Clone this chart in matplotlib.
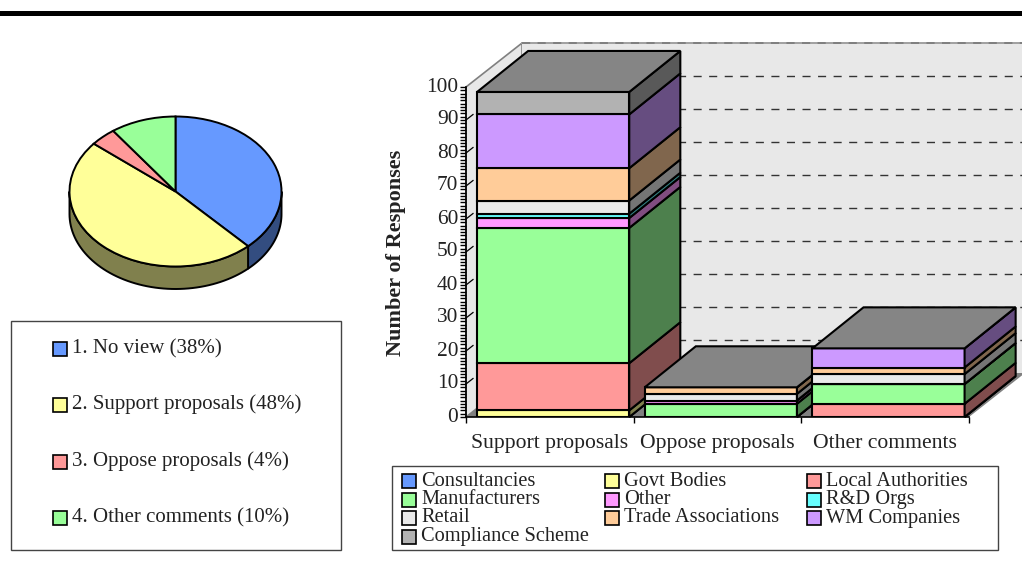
import numpy as np
import matplotlib
matplotlib.use('Agg')
import matplotlib.pyplot as plt
from matplotlib.patches import Polygon, Rectangle
from matplotlib.transforms import ScaledTranslation

W, H = 1022, 574

categories = ['Support proposals', 'Oppose proposals', 'Other comments']
series = ['Consultancies', 'Govt Bodies', 'Local Authorities', 'Manufacturers', 'Other',
          'R&D Orgs', 'Retail', 'Trade Associations', 'WM Companies', 'Compliance Scheme']
consultancies = [0, 0, 0]
govt = [2, 0, 0]
local_auth = [14.3, 0, 4]
manufacturers = [41, 4, 6]
other = [3, 1, 0]
rd_orgs = [1.3, 0, 0]
retail = [4, 2, 3]
trade = [9.8, 2, 2]
wm = [16.3, 0, 5.8]
compliance = [6.8, 0, 0]
stack = [consultancies, govt, local_auth, manufacturers, other, rd_orgs, retail, trade, wm, compliance]
colors = ['#6699ff', '#ffff99', '#ff9999', '#99ff99', '#ff99ff',
          '#66ffff', '#eaeaea', '#ffcc99', '#cc99ff', '#b2b2b2']

pie_labels = ['1. No view (38%)', '2. Support proposals (48%)',
              '3. Oppose proposals (4%)', '4. Other comments (10%)']
pie_values = [38, 48, 4, 10]
pie_colors = ['#6699ff', '#ffff99', '#ff9999', '#99ff99']

plt.rcParams['font.family'] = ['Liberation Serif', 'DejaVu Serif']
INK = '#222222'


def px_axes(fig, x0, y0, x1, y1):
    # axes placed by pixel box, y counted from the top
    ax = fig.add_axes([x0 / W, 1 - y1 / H, (x1 - x0) / W, (y1 - y0) / H])
    ax.patch.set_alpha(0)
    return ax


def shade(color, f=0.5):
    return tuple(c * f for c in matplotlib.colors.to_rgb(color))


def draw_pie(ax):
    ax.pie(pie_values, colors=pie_colors, startangle=90, counterclock=False, radius=1,
           wedgeprops=dict(edgecolor='black', linewidth=1.4, clip_on=False), normalize=True)
    ax.set_aspect('auto')
    ax.set_xlim(-1, 1)
    ax.set_ylim(-1, 1)
    depth = 0.3
    ends = np.cumsum(pie_values) / sum(pie_values) * 360
    starts = ends - np.array(pie_values) / sum(pie_values) * 360
    # rim below the front half of the disc
    for a, b, c in zip(starts, ends, pie_colors):
        a, b = max(a, 90), min(b, 270)
        if b <= a:
            continue
        t = np.radians(np.linspace(a, b, 60))
        x, y = np.sin(t), np.cos(t)
        pts = np.r_[np.c_[x, y], np.c_[x, y - depth][::-1]]
        ax.add_patch(Polygon(pts, closed=True, fc=shade(c), ec='black', lw=1.4, clip_on=False, zorder=0))


def draw_bars(ax, fig):
    ax.set_xlim(0, 3)
    ax.set_ylim(0, 100)
    ax.set_xticks(range(4))
    ax.set_xticklabels([])
    ax.set_yticks(range(0, 101, 10))
    ax.set_yticks(range(0, 101), minor=True)
    ax.tick_params(axis='y', which='major', length=4, width=1.0, labelsize=15.4, pad=1.5, labelcolor=INK)
    ax.tick_params(axis='y', which='minor', length=4, width=1.0)
    ax.tick_params(axis='x', which='major', length=4.5, width=1, pad=0)
    # numbers sit slightly above their ticks
    lift = ScaledTranslation(0, 2.5 / 72 * 0.72, fig.dpi_scale_trans)
    for lab in ax.get_yticklabels():
        lab.set_transform(lab.get_transform() + lift)
    for s in ['top', 'right']:
        ax.spines[s].set_visible(False)
    ax.spines['left'].set_linewidth(1.2)
    ax.spines['bottom'].set_linewidth(1.2)
    ax.spines['bottom'].set_zorder(1.5)

    # depth of the chart box and of the bars, in data units
    wx, wy = 56 / 167.5, 44 / 3.3
    bx, by = 51 / 167.5, 41 / 3.3
    ax.add_patch(Polygon([(0, 0), (wx, wy), (wx, 100 + wy), (0, 100)], fc='#e8e8e8', ec='#808080', lw=1.2, clip_on=False, zorder=0.1))
    ax.add_patch(Polygon([(wx, wy), (3 + wx, wy), (3 + wx, 100 + wy), (wx, 100 + wy)], fc='#e8e8e8', ec='none', clip_on=False, zorder=0.1))
    ax.add_patch(Polygon([(0, 0), (3, 0), (3 + wx, wy), (wx, wy)], fc='#808080', ec='none', clip_on=False, zorder=0.2))
    for v in range(0, 110, 10):
        if v == 100:
            ax.plot([wx, 3 + wx], [v + wy, v + wy], color='#a0a0a0', lw=1.4, clip_on=False, zorder=0.3)
            ax.plot([wx, 3 + wx], [v + wy, v + wy], color='#808080', lw=1.4, dashes=(4.2, 3.8), clip_on=False, zorder=0.3)
        elif v > 0:
            ax.plot([wx, 3 + wx], [v + wy, v + wy], color='#333333', lw=1.0, dashes=(5.8, 5.4), clip_on=False, zorder=0.3)
            ax.plot([0, 7 / 167.5], [v, v + 7 / 167.5 / wx * wy], color='black', lw=0.9, clip_on=False, zorder=0.3)

    x = np.arange(3) + 0.52
    w = 152 / 167.5
    # far bars first so nearer ones overlap them
    for i in range(3):
        base = 0.0
        xl, xr = x[i] - w / 2, x[i] + w / 2
        for vals, c in zip(stack, colors):
            v = vals[i]
            ax.bar(x[i], v, w, bottom=base, color=c, edgecolor='black', linewidth=1.5, zorder=2 + i)
            ax.add_patch(Polygon([(xr, base), (xr + bx, base + by), (xr + bx, base + v + by), (xr, base + v)],
                                 fc=shade(c), ec='black', lw=1.5, clip_on=False, zorder=2 + i))
            base += v
        ax.add_patch(Polygon([(xl, base), (xr, base), (xr + bx, base + by), (xl + bx, base + by)],
                             fc='#858585', ec='black', lw=1.5, clip_on=False, zorder=2 + i))
        ax.text(i + 0.5, -9.4, categories[i], ha='center', va='baseline', fontsize=15.6, color=INK, clip_on=False)
    ax.set_ylabel('Number of Responses', fontsize=16, fontweight='bold', color=INK)
    ax.yaxis.set_label_coords(-60 / 503, 0.497)


def draw_legends(ov):
    ov.set_xlim(0, W)
    ov.set_ylim(H, 0)
    ov.axis('off')
    ov.add_patch(Rectangle((0, 11.3), W, 4.7, fc='black', ec='none'))
    ov.add_patch(Rectangle((11, 320.5), 330, 229.5, fc='white', ec='#444444', lw=1))
    for lab, c, y in zip(pie_labels, pie_colors, [349, 405, 462, 518]):
        ov.add_patch(Rectangle((53, y - 7), 14, 14, fc=c, ec='black', lw=1.2))
        ov.text(72, y + 4.3, lab, fontsize=15, va='baseline', color=INK)
    ov.add_patch(Rectangle((392, 466), 606, 84, fc='white', ec='#444444', lw=1))
    col_x = [402, 605, 807]
    row_y = [481, 499.5, 518, 536.5]
    for i, (lab, c) in enumerate(zip(series, colors)):
        xs, ys = col_x[i % 3], row_y[i // 3]
        ov.add_patch(Rectangle((xs, ys - 7), 14, 14, fc=c, ec='black', lw=1.2))
        ov.text(xs + 19, ys + 4.5, lab, fontsize=14.7, va='baseline', color=INK)


fig = plt.figure(figsize=(W / 100, H / 100), dpi=100)
ov = px_axes(fig, 0, 0, W, H)
draw_legends(ov)
draw_pie(px_axes(fig, 69.5, 116.5, 281.5, 266.5))
draw_bars(px_axes(fig, 466, 87, 969, 417), fig)
fig.savefig('out.png', dpi=100)
